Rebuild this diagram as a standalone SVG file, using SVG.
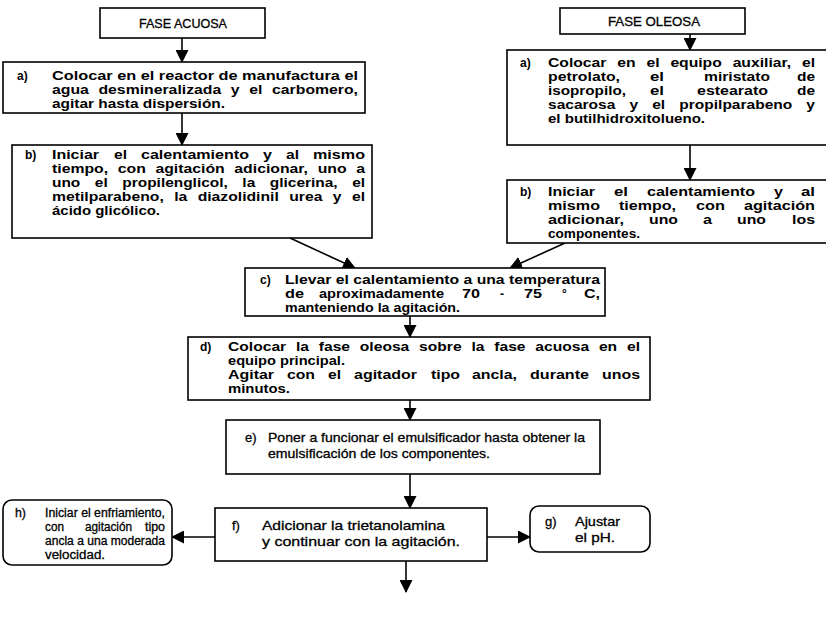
<svg xmlns="http://www.w3.org/2000/svg" width="826" height="630" viewBox="0 0 826 630">
<style>
.box{fill:#fff;stroke:#000;stroke-width:1.6}
.h{font-family:"Liberation Sans",Arial,sans-serif;font-size:13px;fill:#000;stroke:#000;stroke-width:0.3}
.t{font-family:"Liberation Sans",Arial,sans-serif;font-size:12px;font-weight:bold;fill:#000}
.n{font-family:"Liberation Sans",Arial,sans-serif;font-size:13px;fill:#000;stroke:#000;stroke-width:0.3}
.s{font-family:"Liberation Sans",Arial,sans-serif;font-size:12.3px;fill:#000;stroke:#000;stroke-width:0.3}
.c{stroke:#000;stroke-width:1.6;fill:none;marker-end:url(#ah)}
</style>
<defs>
<marker id="ah" markerUnits="userSpaceOnUse" markerWidth="13" markerHeight="13" refX="12" refY="6.5" orient="auto" viewBox="0 0 13 13">
<path d="M0,0 L13,6.5 L0,13 z" fill="#000"/>
</marker>
</defs>
<rect width="826" height="630" fill="#fff"/>
<g id="connectors">
<line class="c" x1="182" y1="38" x2="182" y2="62"/>
<line class="c" x1="182" y1="113" x2="182" y2="145"/>
<line class="c" x1="690" y1="34" x2="690" y2="50"/>
<line class="c" x1="690" y1="145" x2="690" y2="180"/>
<line class="c" x1="290" y1="238" x2="355" y2="268"/>
<line class="c" x1="565" y1="243" x2="510" y2="268"/>
<line class="c" x1="410" y1="316" x2="410" y2="337"/>
<line class="c" x1="410" y1="400" x2="410" y2="420"/>
<line class="c" x1="410" y1="474" x2="410" y2="508"/>
<line class="c" x1="487" y1="537" x2="530" y2="537"/>
<line class="c" x1="215" y1="537" x2="172" y2="537"/>
<line class="c" x1="406" y1="561" x2="406" y2="592"/>
</g>
<g id="fase-acuosa">
<rect class="box" x="100" y="8" width="165" height="30"/>
<text class="h" x="139" y="28" textLength="88" lengthAdjust="spacingAndGlyphs">FASE ACUOSA</text>
</g>
<g id="fase-oleosa">
<rect class="box" x="560" y="8" width="185" height="26"/>
<text class="h" x="608" y="26" textLength="92" lengthAdjust="spacingAndGlyphs">FASE OLEOSA</text>
</g>
<g id="acuosa-a">
<rect class="box" x="3" y="62" width="362" height="51"/>
<text class="t" x="17" y="80">a)</text>
<text class="t" x="52" y="80" textLength="306" lengthAdjust="spacingAndGlyphs">Colocar en el reactor de manufactura el</text>
<text class="t" x="52" y="94" textLength="306" lengthAdjust="spacingAndGlyphs" word-spacing="4">agua desmineralizada y el carbomero,</text>
<text class="t" x="52" y="108" textLength="173" lengthAdjust="spacingAndGlyphs">agitar hasta dispersión.</text>
</g>
<g id="acuosa-b">
<rect class="box" x="12" y="145" width="360" height="93"/>
<text class="t" x="25" y="159">b)</text>
<text class="t" x="52" y="159" textLength="47" lengthAdjust="spacingAndGlyphs">Iniciar</text>
<text class="t" x="114" y="159" textLength="13" lengthAdjust="spacingAndGlyphs">el</text>
<text class="t" x="141" y="159" textLength="108" lengthAdjust="spacingAndGlyphs">calentamiento</text>
<text class="t" x="263" y="159" textLength="9" lengthAdjust="spacingAndGlyphs">y</text>
<text class="t" x="286" y="159" textLength="13" lengthAdjust="spacingAndGlyphs">al</text>
<text class="t" x="313" y="159" textLength="52" lengthAdjust="spacingAndGlyphs">mismo</text>
<text class="t" x="52" y="173" textLength="313" lengthAdjust="spacingAndGlyphs" word-spacing="4">tiempo, con agitación adicionar, uno a</text>
<text class="t" x="52" y="187" textLength="313" lengthAdjust="spacingAndGlyphs" word-spacing="8">uno el propilenglicol, la glicerina, el</text>
<text class="t" x="52" y="201" textLength="313" lengthAdjust="spacingAndGlyphs" word-spacing="4.6">metilparabeno, la diazolidinil urea y el</text>
<text class="t" x="52" y="215" textLength="108" lengthAdjust="spacingAndGlyphs">ácido glicólico.</text>
</g>
<g id="oleosa-a">
<rect class="box" x="507" y="50" width="330" height="95"/>
<text class="t" x="520" y="67">a)</text>
<text class="t" x="548" y="67" textLength="267" lengthAdjust="spacingAndGlyphs" word-spacing="5">Colocar en el equipo auxiliar, el</text>
<text class="t" x="548" y="81" textLength="72" lengthAdjust="spacingAndGlyphs">petrolato,</text>
<text class="t" x="650" y="81" textLength="14" lengthAdjust="spacingAndGlyphs">el</text>
<text class="t" x="704" y="81" textLength="66" lengthAdjust="spacingAndGlyphs">miristato</text>
<text class="t" x="797" y="81" textLength="18" lengthAdjust="spacingAndGlyphs">de</text>
<text class="t" x="548" y="95" textLength="78" lengthAdjust="spacingAndGlyphs">isopropilo,</text>
<text class="t" x="650" y="95" textLength="14" lengthAdjust="spacingAndGlyphs">el</text>
<text class="t" x="697" y="95" textLength="71" lengthAdjust="spacingAndGlyphs">estearato</text>
<text class="t" x="797" y="95" textLength="18" lengthAdjust="spacingAndGlyphs">de</text>
<text class="t" x="548" y="109" textLength="267" lengthAdjust="spacingAndGlyphs" word-spacing="7.6">sacarosa y el propilparabeno y</text>
<text class="t" x="548" y="123" textLength="157" lengthAdjust="spacingAndGlyphs">el butilhidroxitolueno.</text>
</g>
<g id="oleosa-b">
<rect class="box" x="507" y="180" width="330" height="63"/>
<text class="t" x="520" y="196">b)</text>
<text class="t" x="548" y="196" textLength="47" lengthAdjust="spacingAndGlyphs">Iniciar</text>
<text class="t" x="614" y="196" textLength="14" lengthAdjust="spacingAndGlyphs">el</text>
<text class="t" x="647" y="196" textLength="108" lengthAdjust="spacingAndGlyphs">calentamiento</text>
<text class="t" x="774" y="196" textLength="9" lengthAdjust="spacingAndGlyphs">y</text>
<text class="t" x="801" y="196" textLength="14" lengthAdjust="spacingAndGlyphs">al</text>
<text class="t" x="548" y="210" textLength="52" lengthAdjust="spacingAndGlyphs">mismo</text>
<text class="t" x="619" y="210" textLength="57" lengthAdjust="spacingAndGlyphs">tiempo,</text>
<text class="t" x="696" y="210" textLength="29" lengthAdjust="spacingAndGlyphs">con</text>
<text class="t" x="744" y="210" textLength="71" lengthAdjust="spacingAndGlyphs">agitación</text>
<text class="t" x="548" y="224" textLength="76" lengthAdjust="spacingAndGlyphs">adicionar,</text>
<text class="t" x="649" y="224" textLength="29" lengthAdjust="spacingAndGlyphs">uno</text>
<text class="t" x="703" y="224" textLength="9" lengthAdjust="spacingAndGlyphs">a</text>
<text class="t" x="737" y="224" textLength="29" lengthAdjust="spacingAndGlyphs">uno</text>
<text class="t" x="792" y="224" textLength="23" lengthAdjust="spacingAndGlyphs">los</text>
<text class="t" x="548" y="238" textLength="92" lengthAdjust="spacingAndGlyphs">componentes.</text>
</g>
<g id="paso-c">
<rect class="box" x="245" y="268" width="360" height="48"/>
<text class="t" x="260" y="284">c)</text>
<text class="t" x="285" y="284" textLength="315" lengthAdjust="spacingAndGlyphs">Llevar el calentamiento a una temperatura</text>
<text class="t" x="285" y="298" textLength="19" lengthAdjust="spacingAndGlyphs">de</text>
<text class="t" x="319" y="298" textLength="125" lengthAdjust="spacingAndGlyphs">aproximadamente</text>
<text class="t" x="462" y="298" textLength="18" lengthAdjust="spacingAndGlyphs">70</text>
<text class="t" x="500" y="298">-</text>
<text class="t" x="524" y="298" textLength="18" lengthAdjust="spacingAndGlyphs">75</text>
<text class="t" x="562" y="298">°</text>
<text class="t" x="584" y="298" textLength="16" lengthAdjust="spacingAndGlyphs">C,</text>
<text class="t" x="285" y="312" textLength="175" lengthAdjust="spacingAndGlyphs">manteniendo la agitación.</text>
</g>
<g id="paso-d">
<rect class="box" x="188" y="337" width="462" height="63"/>
<text class="t" x="200" y="351">d)</text>
<text class="t" x="228" y="351" textLength="412" lengthAdjust="spacingAndGlyphs" word-spacing="4.2">Colocar la fase oleosa sobre la fase acuosa en el</text>
<text class="t" x="228" y="365" textLength="117" lengthAdjust="spacingAndGlyphs">equipo principal.</text>
<text class="t" x="228" y="379" textLength="46" lengthAdjust="spacingAndGlyphs">Agitar</text>
<text class="t" x="287" y="379" textLength="28" lengthAdjust="spacingAndGlyphs">con</text>
<text class="t" x="328" y="379" textLength="13" lengthAdjust="spacingAndGlyphs">el</text>
<text class="t" x="354" y="379" textLength="63" lengthAdjust="spacingAndGlyphs">agitador</text>
<text class="t" x="431" y="379" textLength="29" lengthAdjust="spacingAndGlyphs">tipo</text>
<text class="t" x="472" y="379" textLength="45" lengthAdjust="spacingAndGlyphs">ancla,</text>
<text class="t" x="530" y="379" textLength="59" lengthAdjust="spacingAndGlyphs">durante</text>
<text class="t" x="602" y="379" textLength="38" lengthAdjust="spacingAndGlyphs">unos</text>
<text class="t" x="228" y="393" textLength="62" lengthAdjust="spacingAndGlyphs">minutos.</text>
</g>
<g id="paso-e">
<rect class="box" x="226" y="420" width="374" height="54"/>
<text class="n" x="245" y="442">e)</text>
<text class="n" x="268" y="442" textLength="317" lengthAdjust="spacingAndGlyphs">Poner a funcionar el emulsificador hasta obtener la</text>
<text class="n" x="268" y="458" textLength="222" lengthAdjust="spacingAndGlyphs">emulsificación de los componentes.</text>
</g>
<g id="paso-f">
<rect class="box" x="215" y="508" width="272" height="53"/>
<text class="n" x="232" y="530">f)</text>
<text class="n" x="262" y="530" textLength="183" lengthAdjust="spacingAndGlyphs">Adicionar la trietanolamina</text>
<text class="n" x="262" y="546" textLength="198" lengthAdjust="spacingAndGlyphs">y continuar con la agitación.</text>
</g>
<g id="paso-g">
<rect class="box" x="530" y="506" width="120" height="46" rx="9"/>
<text class="n" x="545" y="526">g)</text>
<text class="n" x="575" y="526" textLength="45" lengthAdjust="spacingAndGlyphs">Ajustar</text>
<text class="n" x="575" y="542" textLength="40" lengthAdjust="spacingAndGlyphs">el pH.</text>
</g>
<g id="paso-h">
<rect class="box" x="3" y="500" width="169" height="65" rx="9"/>
<text class="s" x="15" y="517">h)</text>
<text class="s" x="45" y="517" textLength="120" lengthAdjust="spacingAndGlyphs">Iniciar el enfriamiento,</text>
<text class="s" x="45" y="531" textLength="19" lengthAdjust="spacingAndGlyphs">con</text>
<text class="s" x="85" y="531" textLength="47" lengthAdjust="spacingAndGlyphs">agitación</text>
<text class="s" x="145" y="531" textLength="20" lengthAdjust="spacingAndGlyphs">tipo</text>
<text class="s" x="45" y="545" textLength="120" lengthAdjust="spacingAndGlyphs">ancla a una moderada</text>
<text class="s" x="45" y="559" textLength="60" lengthAdjust="spacingAndGlyphs">velocidad.</text>
</g>
</svg>
